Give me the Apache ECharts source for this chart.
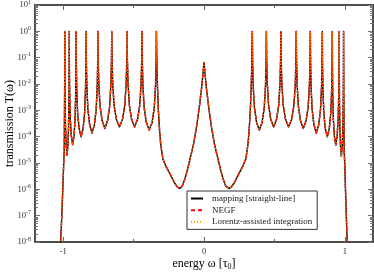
<!DOCTYPE html>
<html><head><meta charset="utf-8">
<script src="https://cdn.jsdelivr.net/npm/echarts@6/dist/echarts.min.js"></script>
<style>html,body{margin:0;padding:0;background:#fff}#c{width:374px;height:272px}</style>
</head><body><div id="c"></div>
<script>
// energy ω [τ0] and log10 of transmission T(ω)
const energy = [
-1.030,-1.018,-1.011,-1.002,-0.9955,-0.9925,-0.9895,-0.9885,-0.988,
-0.9874,-0.9861,-0.9834,-0.9787,-0.9725,-0.9663,-0.9617,-0.9589,-0.9576,-0.957,
-0.9560,-0.9541,-0.9497,-0.9423,-0.9325,-0.9227,-0.9154,-0.9109,-0.9090,-0.908,
-0.9066,-0.9037,-0.8974,-0.8867,-0.8725,-0.8583,-0.8477,-0.8413,-0.8384,-0.837,
-0.8353,-0.8320,-0.8244,-0.8118,-0.7950,-0.7782,-0.7656,-0.7580,-0.7547,-0.753,
-0.7510,-0.7471,-0.7383,-0.7236,-0.7040,-0.6844,-0.6697,-0.6609,-0.6570,-0.655,
-0.6528,-0.6485,-0.6387,-0.6223,-0.6005,-0.5787,-0.5624,-0.5525,-0.5482,-0.546,
-0.5439,-0.5396,-0.5301,-0.5142,-0.4930,-0.4718,-0.4559,-0.4464,-0.4421,-0.440,
-0.438,-0.434,-0.425,-0.410,-0.389,-0.368,-0.353,-0.344,-0.340,-0.338,
-0.335,-0.331,-0.324,-0.315,-0.307,-0.292,-0.268,-0.238,-0.210,-0.190,-0.172,-0.155,-0.135,-0.115,-0.095,-0.075,-0.055,-0.035,-0.018,-0.007,0,
0.007,0.018,0.035,0.055,0.075,0.095,0.115,0.135,0.155,0.177,0.195,0.215,0.243,0.273,0.297,0.312,0.320,0.329,0.336,0.340,0.343,
0.345,0.349,0.358,0.373,0.393,0.413,0.428,0.437,0.441,0.443,
0.4451,0.4492,0.4585,0.4739,0.4945,0.5151,0.5306,0.5398,0.5439,0.546,
0.5482,0.5525,0.5624,0.5787,0.6005,0.6223,0.6387,0.6485,0.6528,0.655,
0.657,0.661,0.670,0.685,0.705,0.725,0.740,0.749,0.753,0.755,
0.7567,0.7601,0.7678,0.7805,0.7975,0.8145,0.8273,0.8349,0.8383,0.840,
0.8414,0.8443,0.8507,0.8613,0.8755,0.8897,0.9004,0.9067,0.9096,0.911,
0.9120,0.9139,0.9184,0.9257,0.9355,0.9453,0.9527,0.9571,0.9590,0.960,
0.9606,0.9619,0.9647,0.9693,0.9755,0.9817,0.9864,0.9891,0.9904,0.991,
0.9915,0.9925,0.9955,0.9985,1.004,1.011,1.017,1.030
];
const logTransmission = [
-9.0,-8.0,-7.17,-5.9,-4.9,-4.6,-2.2,-0.8,0,
-1.41,-2.54,-3.62,-4.32,-4.70,-4.32,-3.62,-2.54,-1.41,0,
-1.29,-2.32,-3.31,-3.96,-4.30,-3.96,-3.31,-2.32,-1.29,0,
-1.20,-2.17,-3.09,-3.69,-4.01,-3.69,-3.09,-2.17,-1.20,0,
-1.16,-2.08,-2.97,-3.55,-3.86,-3.55,-2.97,-2.08,-1.16,0,
-1.11,-1.99,-2.84,-3.39,-3.69,-3.39,-2.84,-1.99,-1.11,0,
-1.09,-1.96,-2.80,-3.34,-3.63,-3.34,-2.80,-1.96,-1.09,0,
-1.09,-1.96,-2.80,-3.34,-3.63,-3.34,-2.80,-1.96,-1.09,0,
-1.13,-2.03,-2.89,-3.45,-3.75,-3.45,-2.89,-2.03,-1.13,0,
-1.1,-2.0,-3.0,-3.8,-4.3,-4.85,-5.15,-5.45,-5.75,-5.91,-5.97,-5.88,-5.6,-5.2,-4.75,-4.3,-3.7,-2.95,-2.2,-1.6,-1.18,
-1.6,-2.2,-2.95,-3.7,-4.3,-4.75,-5.2,-5.6,-5.88,-5.97,-5.91,-5.75,-5.45,-5.15,-4.85,-4.3,-3.8,-3.0,-2.0,-1.1,0,
-1.13,-2.03,-2.89,-3.45,-3.75,-3.45,-2.89,-2.03,-1.13,0,
-1.09,-1.96,-2.80,-3.34,-3.63,-3.34,-2.80,-1.96,-1.09,0,
-1.09,-1.96,-2.80,-3.34,-3.63,-3.34,-2.80,-1.96,-1.09,0,
-1.11,-1.99,-2.84,-3.39,-3.69,-3.39,-2.84,-1.99,-1.11,0,
-1.16,-2.08,-2.97,-3.55,-3.86,-3.55,-2.97,-2.08,-1.16,0,
-1.20,-2.17,-3.09,-3.69,-4.01,-3.69,-3.09,-2.17,-1.20,0,
-1.30,-2.33,-3.33,-3.97,-4.32,-3.97,-3.33,-2.33,-1.30,0,
-1.42,-2.56,-3.65,-4.36,-4.74,-4.36,-3.65,-2.56,-1.42,0,
-0.8,-2.2,-4.6,-4.9,-5.9,-7.1,-8.0,-9.0
];
const seriesNames = ['mapping [straight-line]', 'NEGF', 'Lorentz-assisted integration'];
const xMajorTicks = [-1, 0, 1];
const xMinorTicks = [-0.5, 0.5];
const yMajorTicks = [1e-8,1e-7,1e-6,1e-5,1e-4,1e-3,1e-2,1e-1,1,10];
const yMinorTicks = [];
for (let e = -8; e < 1; e++) for (let k = 2; k <= 9; k++) yMinorTicks.push(k * Math.pow(10, e));

const data = energy.map((e, i) => [e, Math.pow(10, logTransmission[i])]);
const serif = 'Liberation Serif, DejaVu Serif, serif';
const axisColor = '#444';

function xAx(pos, ticks, len, labels) {
  return {
    type: 'value', min: -1.2, max: 1.2, position: pos,
    axisLine: { show: true, onZero: false, lineStyle: { color: axisColor, width: 1.5 } },
    axisTick: { show: true, inside: true, length: len, customValues: ticks, lineStyle: { color: '#666', width: 1 } },
    axisLabel: labels ? { show: true, customValues: ticks, fontFamily: serif, fontSize: 8.5, color: '#333', margin: 5 } : { show: false },
    splitLine: { show: false }
  };
}
function yAx(pos, ticks, len, labels) {
  return {
    type: 'log', logBase: 10, min: 1e-8, max: 10, position: pos,
    axisLine: { show: true, onZero: false, lineStyle: { color: axisColor, width: 1.5 } },
    axisTick: { show: true, inside: true, length: len, customValues: ticks, lineStyle: { color: '#777', width: 1 } },
    axisLabel: labels ? {
      show: true, customValues: ticks, margin: 4,
      formatter: v => '{b|10}{s|' + Math.round(Math.log10(v)) + '}',
      rich: {
        b: { fontFamily: serif, fontSize: 8.5, color: '#333' },
        s: { fontFamily: serif, fontSize: 6, color: '#333', padding: [0, 0, 6, 0] }
      }
    } : { show: false },
    splitLine: { show: false }
  };
}

const xAxes = [xAx('bottom', xMajorTicks, 5, true), xAx('bottom', xMinorTicks, 3, false),
               xAx('top', xMajorTicks, 5, false), xAx('top', xMinorTicks, 3, false)];
xAxes[0].name = 'energy ω [τ{sub|0}]';
xAxes[0].nameLocation = 'middle';
xAxes[0].nameGap = 15;
xAxes[0].nameMoveOverlap = false;
xAxes[0].nameTextStyle = { fontFamily: serif, fontSize: 12, color: '#000',
  rich: { sub: { fontFamily: serif, fontSize: 8, color: '#000', padding: [6, 0, 0, 0] } } };

const yAxes = [yAx('left', yMajorTicks, 5, true), yAx('left', yMinorTicks, 3, false),
               yAx('right', yMajorTicks, 5, false), yAx('right', yMinorTicks, 3, false)];
yAxes[0].name = 'transmission T(ω)';
yAxes[0].nameLocation = 'middle';
yAxes[0].nameGap = 19;
yAxes[0].nameMoveOverlap = false;
yAxes[0].nameTextStyle = { fontFamily: serif, fontSize: 12, color: '#000' };

const styles = [
  { color: '#000000', type: 'solid', width: 1.4 },
  { color: '#ff0000', type: [4, 3], width: 1.4 },
  { color: '#ffa500', type: [1, 2], width: 1 }
];

const chart = echarts.init(document.getElementById('c'), null, { renderer: 'canvas' });
chart.setOption({
  animation: false,
  backgroundColor: '#fff',
  grid: { left: 35, right: 1, top: 5, bottom: 30, containLabel: false, outerBoundsMode: 'none' },
  xAxis: xAxes,
  yAxis: yAxes,
  legend: {
    orient: 'vertical', left: 187, top: 191,
    itemWidth: 12, itemHeight: 8, itemGap: 2.7,
    padding: [3, 5, 3, 3],
    backgroundColor: '#fff', borderColor: '#333', borderWidth: 1,
    itemStyle: { opacity: 0 },
    textStyle: { fontFamily: serif, fontSize: 9, color: '#222', padding: [0, 0, 0, 4] },
    data: seriesNames
  },
  series: seriesNames.map((n, i) => ({
    name: n, type: 'line', xAxisIndex: 0, yAxisIndex: 0,
    data: data, showSymbol: false, symbol: 'none', clip: true,
    lineStyle: Object.assign({ join: 'round', cap: 'butt' }, styles[i]),
    itemStyle: { color: styles[i].color },
    z: 2 + i
  }))
});
</script>
</body></html>
